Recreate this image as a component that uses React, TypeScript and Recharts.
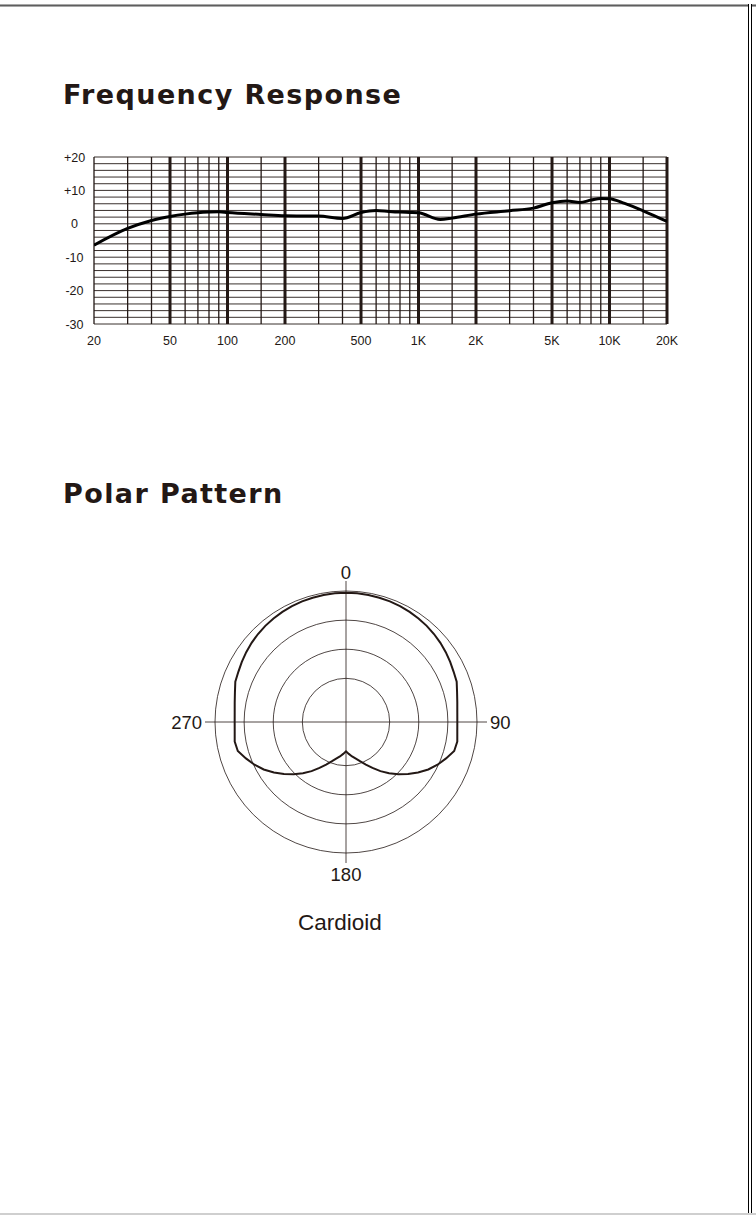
import React from "react";
import {
  LineChart,
  Line,
  XAxis,
  YAxis,
  ReferenceLine,
  RadarChart,
  PolarGrid,
  PolarAngleAxis,
  PolarRadiusAxis,
  Radar,
} from "recharts";

const INK = "#231815";

// frequency response curve (Hz, dB)
const freqs = [20, 30, 40, 50, 60, 70, 80, 90, 100, 150, 200, 300, 400, 500, 600, 700, 800, 900, 1000, 1300, 1500, 2000, 3000, 4000, 5000, 6000, 7000, 8000, 9000, 10000, 12000, 15000, 20000];
const responseDb = [-6.4, -1.4, 1.0, 2.2, 2.9, 3.3, 3.5, 3.6, 3.4, 2.8, 2.4, 2.3, 1.6, 3.4, 4.0, 3.7, 3.5, 3.4, 3.3, 1.3, 1.7, 2.9, 3.9, 4.7, 6.3, 6.8, 6.4, 7.1, 7.6, 7.5, 6.1, 3.9, 0.7];

const freqTicks = [20, 50, 100, 200, 500, 1000, 2000, 5000, 10000, 20000];
const freqTickLabels = ["20", "50", "100", "200", "500", "1K", "2K", "5K", "10K", "20K"];
const dbTicks = [-30, -20, -10, 0, 10, 20];
const dbTickLabels = ["-30", "-20", "-10", "0", "+10", "+20"];

const minorFreqs = [20, 30, 40, 60, 70, 80, 90, 150, 300, 400, 600, 700, 800, 900, 1500, 3000, 4000, 6000, 7000, 8000, 9000, 15000];
const majorFreqs = [50, 100, 200, 500, 1000, 2000, 5000, 10000, 20000];
const dbGrid = [-30, -28, -26, -24, -22, -20, -18, -16, -14, -12, -10, -8, -6, -4, -2, 0, 2, 4, 6, 8, 10, 12, 14, 16, 18, 20];

// polar pattern (degrees, dB)
const polarAngles = [
  0, 5, 10, 15, 20, 25, 30, 35, 40, 45, 50, 55, 60, 65, 70, 75, 80, 85,
  90, 95, 100, 105, 110, 115, 120, 125, 130, 135, 140, 145, 150, 155, 160, 165, 170, 175,
  180, 185, 190, 195, 200, 205, 210, 215, 220, 225, 230, 235, 240, 245, 250, 255, 260, 265,
  270, 275, 280, 285, 290, 295, 300, 305, 310, 315, 320, 325, 330, 335, 340, 345, 350, 355,
];
const polarDb = [
  -0.29, -0.31, -0.34, -0.4, -0.46, -0.55, -0.65, -0.79, -0.94, -1.13, -1.34, -1.58, -1.84, -2.1, -2.27, -2.75, -3.09, -3.31,
  -3.38, -3.31, -3.09, -3.26, -4.21, -5.15, -6.18, -7.39, -8.59, -9.79, -10.99, -12.19, -13.4, -14.43, -15.29, -15.97, -16.49, -17.0,
  -17.47, -17.0, -16.49, -15.97, -15.29, -14.43, -13.4, -12.19, -10.99, -9.79, -8.59, -7.39, -6.18, -5.15, -4.21, -3.26, -3.09, -3.31,
  -3.38, -3.31, -3.09, -2.75, -2.27, -2.1, -1.84, -1.58, -1.34, -1.13, -0.94, -0.79, -0.65, -0.55, -0.46, -0.4, -0.34, -0.31,
];
const polarRings = [-15, -10, -5, 0];
const polarLabels = ["0", "90", "180", "270"];

const freqData = freqs.map((f, i) => ({ f, db: responseDb[i] }));
const polarData = polarAngles.map((angle, i) => ({ angle, db: polarDb[i] }));

const sans = "'Liberation Sans', Arial, sans-serif";

const YTick = ({ x, y, payload }: any) => {
  const label = dbTickLabels[dbTicks.indexOf(payload.value)];
  return (
    <text x={x - 19.5} y={y} dy="0.36em" textAnchor="middle" fill={INK} fontSize={12.5} fontFamily={sans}>
      {label}
    </text>
  );
};

const XTick = ({ x, y, payload }: any) => {
  const label = freqTickLabels[freqTicks.indexOf(payload.value)];
  return (
    <text x={x} y={y + 20.5} textAnchor="middle" fill={INK} fontSize={12.5} fontFamily={sans}>
      {label}
    </text>
  );
};

const AngleTick = ({ x, y, payload }: any) => {
  const v = String(payload.value);
  if (!polarLabels.includes(v)) return <g />;
  const common = { fill: INK, fontSize: 18.5, fontFamily: sans };
  if (v === "0")
    return (
      <g>
        <line x1={x} y1={y} x2={x} y2={y + 10} stroke={INK} strokeWidth={0.8} />
        <text x={x} y={y - 2} textAnchor="middle" {...common}>0</text>
      </g>
    );
  if (v === "90")
    return (
      <g>
        <line x1={x} y1={y} x2={x - 10} y2={y} stroke={INK} strokeWidth={0.8} />
        <text x={x + 3} y={y} dy="0.36em" textAnchor="start" {...common}>90</text>
      </g>
    );
  if (v === "180")
    return (
      <g>
        <line x1={x} y1={y} x2={x} y2={y - 10} stroke={INK} strokeWidth={0.8} />
        <text x={x} y={y + 18} textAnchor="middle" {...common}>180</text>
      </g>
    );
  return (
    <g>
      <line x1={x} y1={y} x2={x + 10} y2={y} stroke={INK} strokeWidth={0.8} />
      <text x={x - 3} y={y} dy="0.36em" textAnchor="end" {...common}>270</text>
    </g>
  );
};

const titleStyle: React.CSSProperties = {
  position: "absolute",
  left: 63,
  fontFamily: "'DejaVu Sans', sans-serif",
  fontWeight: 700,
  fontSize: 27,
  lineHeight: "27px",
  letterSpacing: 1.4,
  color: INK,
  whiteSpace: "nowrap",
};

export default function App() {
  return (
    <div style={{ position: "absolute", left: 0, top: 0, width: 756, height: 1215, background: "#fff", overflow: "hidden" }}>
      {/* page frame */}
      <div style={{ position: "absolute", left: 0, top: 4, width: 749, height: 1, background: "#5e5e5e", borderTop: "1px solid #a8a8a8", borderBottom: "1px solid #a8a8a8" }} />
      <div style={{ position: "absolute", left: 752, top: 4, width: 4, height: 1, background: "#5e5e5e", borderTop: "1px solid #a8a8a8", borderBottom: "1px solid #a8a8a8" }} />
      <div style={{ position: "absolute", left: 748, top: 4, width: 1, height: 1211, background: "#000" }} />
      <div style={{ position: "absolute", left: 751, top: 4, width: 1, height: 1211, background: "#000" }} />
      <div style={{ position: "absolute", left: 0, top: 1213, width: 756, height: 2, background: "#cfcfcf" }} />

      <div style={{ ...titleStyle, top: 81 }}>Frequency Response</div>

      <div style={{ position: "absolute", left: 0, top: 130 }}>
        <LineChart width={756} height={224} data={freqData} margin={{ top: 27, right: 89, bottom: 0, left: 64 }}>
          <XAxis
            dataKey="f"
            type="number"
            scale="log"
            domain={[20, 20000]}
            ticks={freqTicks}
            allowDataOverflow
            axisLine={false}
            tickLine={false}
            tickSize={0}
            tickMargin={0}
            height={30}
            tick={<XTick />}
          />
          <YAxis
            type="number"
            domain={[-30, 20]}
            ticks={dbTicks}
            axisLine={false}
            tickLine={false}
            tickSize={0}
            tickMargin={0}
            width={30}
            tick={<YTick />}
          />
          {dbGrid.map((v) => (
            <ReferenceLine key={"h" + v} y={v} stroke={INK} strokeWidth={0.9} />
          ))}
          {minorFreqs.map((f) => (
            <ReferenceLine key={"m" + f} x={f} stroke={INK} strokeWidth={1.3} />
          ))}
          {majorFreqs.map((f) => (
            <ReferenceLine key={"M" + f} x={f} stroke={INK} strokeWidth={3} />
          ))}
          <Line
            type="monotone"
            dataKey="db"
            stroke="#000"
            strokeWidth={3}
            dot={false}
            isAnimationActive={false}
          />
        </LineChart>
      </div>

      <div style={{ ...titleStyle, top: 480 }}>Polar Pattern</div>

      <div style={{ position: "absolute", left: 0, top: 540 }}>
        <RadarChart width={756} height={360} data={polarData} cx={346} cy={182} outerRadius={131} margin={{ top: 0, right: 0, bottom: 0, left: 0 }}>
          <PolarGrid gridType="circle" polarAngles={[90, 0, -90, 180]} stroke={INK} strokeWidth={0.8} />
          <PolarAngleAxis dataKey="angle" tick={<AngleTick />} tickLine={false} axisLine={false} tickSize={10} />
          <PolarRadiusAxis domain={[-22.5, 0]} ticks={polarRings} tick={false} axisLine={false} angle={90} />
          <Radar dataKey="db" stroke={INK} strokeWidth={2} fill="none" fillOpacity={0} dot={false} isAnimationActive={false} />
        </RadarChart>
      </div>

      <div
        style={{
          position: "absolute",
          left: 240,
          width: 200,
          top: 912,
          textAlign: "center",
          fontFamily: sans,
          fontSize: 22.5,
          lineHeight: "22px",
          color: INK,
        }}
      >
        Cardioid
      </div>
    </div>
  );
}
